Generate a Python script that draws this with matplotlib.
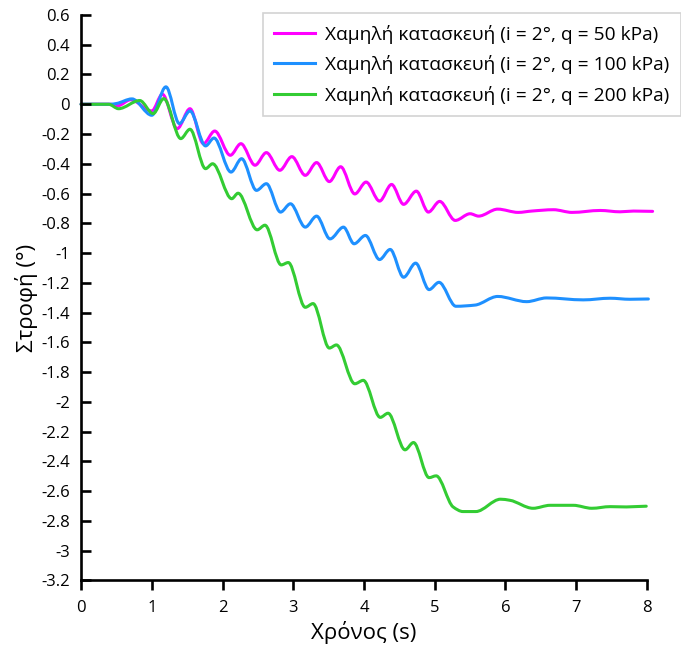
import numpy as np
import matplotlib
matplotlib.use("Agg")
import matplotlib.pyplot as plt
from matplotlib.path import Path
from matplotlib.patches import PathPatch
from matplotlib.lines import Line2D
from matplotlib.ticker import FuncFormatter, MultipleLocator

plt.rcParams["font.family"] = ["Open Sans", "DejaVu Sans"]

# rotation time histories, read at the turning points of each record
t_50 = [0, 0.41, 0.52, 0.70, 1.00, 1.15, 1.36, 1.54, 1.73, 1.89, 2.11, 2.26,
        2.46, 2.62, 2.81, 2.98, 3.17, 3.33, 3.51, 3.67, 3.87, 4.03, 4.22, 4.39,
        4.56, 4.74, 4.91, 5.07, 5.29, 5.50, 5.62, 5.89, 6.18, 6.37, 6.68, 6.94,
        7.34, 7.62, 7.81, 8.08]
rot_50 = [0, 0, -0.01, 0.03, -0.045, 0.067, -0.164, -0.03, -0.265, -0.18,
          -0.343, -0.265, -0.41, -0.325, -0.444, -0.352, -0.478, -0.392, -0.52,
          -0.42, -0.603, -0.523, -0.651, -0.539, -0.673, -0.584, -0.725, -0.653,
          -0.781, -0.736, -0.752, -0.705, -0.727, -0.718, -0.709, -0.727, -0.714,
          -0.723, -0.718, -0.72]

t_100 = [0, 0.41, 0.50, 0.72, 1.00, 1.20, 1.39, 1.54, 1.76, 1.88, 2.12, 2.27,
         2.48, 2.62, 2.82, 2.96, 3.17, 3.33, 3.52, 3.71, 3.86, 4.02, 4.22, 4.37,
         4.56, 4.73, 4.92, 5.06, 5.30, 5.57, 5.89, 6.30, 6.58, 7.10, 7.48, 7.76,
         8.02]
rot_100 = [0, 0, 0.005, 0.036, -0.074, 0.117, -0.13, -0.045, -0.28, -0.227,
           -0.456, -0.366, -0.579, -0.534, -0.725, -0.669, -0.826, -0.752,
           -0.905, -0.826, -0.938, -0.882, -1.044, -0.976, -1.163, -1.068,
           -1.246, -1.197, -1.358, -1.35, -1.292, -1.327, -1.302, -1.315,
           -1.304, -1.311, -1.309]

t_200 = [0, 0.39, 0.53, 0.83, 1.02, 1.17, 1.41, 1.54, 1.76, 1.86, 2.13, 2.22,
         2.49, 2.60, 2.83, 2.93, 3.17, 3.28, 3.51, 3.61, 3.87, 3.99, 4.23, 4.34,
         4.58, 4.70, 4.92, 5.02, 5.26, 5.40, 5.58, 5.93, 6.06, 6.39, 6.63, 6.96,
         7.22, 7.48, 7.71, 7.99]
rot_200 = [0, 0, -0.03, 0.025, -0.063, 0.038, -0.231, -0.168, -0.433, -0.40,
           -0.635, -0.598, -0.844, -0.813, -1.08, -1.064, -1.365, -1.34, -1.639,
           -1.618, -1.879, -1.856, -2.105, -2.077, -2.323, -2.274, -2.51, -2.498,
           -2.707, -2.738, -2.738, -2.655, -2.662, -2.716, -2.696, -2.696,
           -2.716, -2.705, -2.707, -2.702]

labels = [
    "Χαμηλή κατασκευή (i = 2°, q = 50 kPa)",
    "Χαμηλή κατασκευή (i = 2°, q = 100 kPa)",
    "Χαμηλή κατασκευή (i = 2°, q = 200 kPa)",
]
colors = ["#FF00FF", "#1E90FF", "#33CC33"]


def smooth_path(x, y):
    """Monotone cubic (Hermite) through the points, written as Bezier segments."""
    x = np.asarray(x, float)
    y = np.asarray(y, float)
    h = np.diff(x)
    delta = np.diff(y) / h
    d = np.zeros_like(y)
    for k in range(1, len(x) - 1):
        if delta[k - 1] * delta[k] > 0:
            w1 = 2 * h[k] + h[k - 1]
            w2 = h[k] + 2 * h[k - 1]
            d[k] = (w1 + w2) / (w1 / delta[k - 1] + w2 / delta[k])
    verts = [(x[0], y[0])]
    codes = [Path.MOVETO]
    for k in range(len(x) - 1):
        verts += [(x[k] + h[k] / 3, y[k] + d[k] * h[k] / 3),
                  (x[k + 1] - h[k] / 3, y[k + 1] - d[k + 1] * h[k] / 3),
                  (x[k + 1], y[k + 1])]
        codes += [Path.CURVE4] * 3
    return Path(verts, codes)


def tick_fmt(v, _):
    v = round(v, 1)
    return "0" if v == 0 else f"{v:g}"


fig = plt.figure(figsize=(6.81, 6.52), dpi=100)
ax = fig.add_axes([0.119, 0.110, 0.831, 0.867])

series = [(t_50, rot_50), (t_100, rot_100), (t_200, rot_200)]
for (t, r), c in zip(series, colors):
    ax.add_patch(PathPatch(smooth_path(t, r), facecolor="none", edgecolor=c,
                           lw=2.2, clip_on=False, capstyle="round",
                           joinstyle="round"))

ax.set_xlim(0, 8)
ax.set_ylim(-3.2, 0.6)
ax.xaxis.set_major_locator(MultipleLocator(1))
ax.yaxis.set_major_locator(MultipleLocator(0.2))
ax.yaxis.set_major_formatter(FuncFormatter(tick_fmt))

for side in ["top", "right"]:
    ax.spines[side].set_visible(False)
for side in ["left", "bottom"]:
    ax.spines[side].set_linewidth(1.9)
ax.tick_params(axis="y", direction="in", length=7, width=1.9, labelsize=12, pad=8)
ax.tick_params(axis="x", direction="out", length=7, width=1.9, labelsize=12, pad=7)

ax.set_xlabel("Χρόνος (s)", fontsize=16, labelpad=4)
ax.set_ylabel("Στροφή (°)", fontsize=16, labelpad=2)

handles = [Line2D([], [], color=c, lw=2.2) for c in colors]
leg = ax.legend(handles, labels, loc="upper right", bbox_to_anchor=(1.0, 0.98),
                bbox_transform=fig.transFigure, fontsize=13.8, frameon=True,
                fancybox=False, edgecolor="#C8C8C8", handlelength=2.1,
                handletextpad=0.55, borderpad=0.6, labelspacing=0.6,
                borderaxespad=0)
leg.get_frame().set_linewidth(1.2)

fig.savefig("out.png", dpi=100)
